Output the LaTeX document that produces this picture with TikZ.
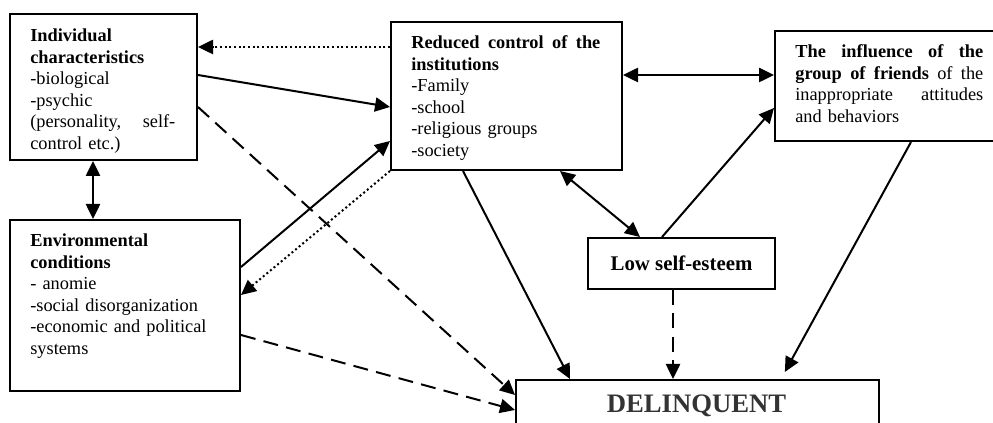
\documentclass[tikz,border=0pt]{standalone}
\usepackage{fontspec}
\setmainfont{Liberation Serif}
\usepackage{tikz}
\usetikzlibrary{calc}
\usetikzlibrary{arrows.meta}
\tikzset{
    mybox/.style = {rectangle, draw=black, line width=1.2pt, inner sep=0pt, anchor=north west},
    mytext/.style = {inner sep=0pt, anchor=base west, align=left, font=\fontsize{11}{12.9}\selectfont},
    edgen/.style = {-{Triangle[length=9pt,width=8.5pt]}, line width=1.2pt},
    edgeb/.style = {{Triangle[length=9pt,width=8.5pt]}-{Triangle[length=9pt,width=8.5pt]}, line width=1.2pt}, % both ways
    edged/.style = {edgen, dash pattern=on 9pt off 5pt}, % dashed
    edgeo/.style = {edgen, dash pattern=on 1.2pt off 1.6pt} % dotted
}

\begin{document}
\begin{tikzpicture}[x=0.6pt, y=-0.6pt]
  \useasboundingbox (0,0) rectangle (993,423);

  \node[mybox, minimum width=112.2pt, minimum height=87.6pt] (ind) at (9,13) {};
  \node[mybox, minimum width=138pt, minimum height=102.6pt] (env) at (9,219) {};
  \node[mybox, minimum width=138.6pt, minimum height=88.8pt] (red) at (390,21) {};
  \node[mybox, minimum width=135pt, minimum height=66pt] (inf) at (774,30) {};
  \node[mybox, minimum width=112.2pt, minimum height=30.6pt,
        font=\fontsize{12.5}{15}\selectfont\bfseries] (low) at (587,237) {Low self-esteem};
  \node[mybox, minimum width=217.8pt, minimum height=36pt] (del) at (515,379) {};

  \node[mytext, text width=87pt] (indt) at ($(ind.north west)+(21,29)$)
    {\textbf{Individual}\\\textbf{characteristics}\\-biological\\-psychic\\(personality,\hfill self-\\control etc.)};
  \node[mytext, text width=112pt] (envt) at ($(env.north west)+(21,28)$)
    {\textbf{Environmental}\\\textbf{conditions}\\- anomie\\-social disorganization\\-economic and political\\systems};
  \node[mytext, text width=113.4pt] (redt) at ($(red.north west)+(21,28)$)
    {\textbf{Reduced\hfill control\hfill of\hfill the}\\\textbf{institutions}\\-Family\\-school\\-religious groups\\-society};
  \node[mytext, text width=112.8pt] (inft) at ($(inf.north west)+(21,28)$)
    {\textbf{The\hfill influence\hfill of\hfill the}\\\textbf{group\hfill of\hfill friends}\hfill of\hfill the\\inappropriate\hfill attitudes\\and behaviors};
  \node[inner sep=0pt, anchor=base, text=black!80, font=\fontsize{16}{19}\selectfont\bfseries]
    (delt) at ($(del.north west)+(181.5,34)$) {DELINQUENT};

  \draw[edgeo] ($(red.north west)+(0,26)$) -- ($(ind.north east)+(0,34)$);
  \draw[edgen] ($(ind.north east)+(0,62)$) -- ($(red.north west)+(0,86)$);
  \draw[edged] ($(ind.north east)+(0,94)$) -- ($(del.north west)+(0,16)$);
  \draw[edgeb] ($(ind.south west)+(84,0)$) -- ($(env.north west)+(84,0)$);
  \draw[edgen] ($(env.north east)+(0,48)$) -- ($(red.north west)+(0,120)$);
  \draw[edgeo] (red.south west) -- ($(env.north east)+(0,76)$);
  \draw[edged] ($(env.north east)+(0,116)$) -- ($(del.north west)+(0,31)$);
  \draw[edgen] ($(red.south west)+(73,0)$) -- ($(del.north west)+(55,0)$);
  \draw[edgeb] ($(red.north east)+(0,54)$) -- ($(inf.north west)+(0,45)$);
  \draw[edgeb] ($(red.south west)+(170,0)$) -- ($(low.north west)+(53,0)$);
  \draw[edgen] ($(low.north west)+(75,0)$) -- ($(inf.north west)+(0,78)$);
  \draw[edgen, shorten >=4.8pt] ($(inf.south west)+(137,0)$) -- ($(del.north west)+(266,0)$);
  \draw[edged] ($(low.south west)+(86,0)$) -- ($(del.north west)+(158,0)$);
\end{tikzpicture}
\end{document}
